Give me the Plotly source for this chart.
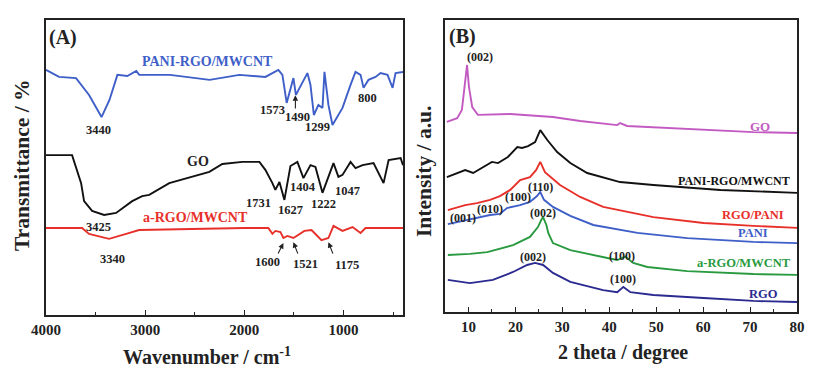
import plotly.graph_objects as go

FONT = "Liberation Serif"

# ---------------- Panel A: FTIR ----------------
pani_rgo_wn = [4000, 3869, 3697, 3566, 3440, 3360, 3280, 3180, 3090, 3060, 2750, 2350, 2050, 1788,
               1657, 1616, 1573, 1505, 1480, 1404, 1364, 1333, 1299, 1253, 1212, 1192, 1152, 1111,
               1010, 929, 879, 828, 798, 748, 677, 626, 556, 505, 475, 400]
pani_rgo_t = [83.1, 80.7, 80.3, 74.6, 67.1, 72.9, 81.4, 81.0, 82.7, 81.4, 81.4, 79.7, 81.4, 80.7,
              83.1, 81.4, 71.9, 80.3, 74.6, 79.7, 82.0, 78.0, 67.8, 71.2, 70.2, 82.4, 71.2, 64.4,
              70.2, 78.0, 82.4, 81.4, 77.0, 79.7, 80.7, 82.0, 81.4, 77.0, 82.0, 82.4]

go_wn = [4000, 3737, 3646, 3616, 3535, 3414, 3293, 3131, 3030, 2959, 2757, 2525, 2353, 2222,
         2020, 1848, 1788, 1717, 1687, 1646, 1596, 1535, 1465, 1404, 1333, 1283, 1212, 1101,
         1051, 1010, 929, 879, 808, 697, 596, 545, 424, 400]
go_t = [54.2, 54.2, 44.7, 38.6, 35.3, 33.9, 34.6, 38.6, 40.3, 40.7, 44.7, 46.8, 48.5, 51.2,
        51.9, 51.9, 49.2, 44.7, 42.4, 45.1, 39.0, 50.5, 51.9, 46.4, 50.8, 50.2, 41.4, 51.5,
        46.8, 47.5, 51.9, 49.8, 50.8, 51.5, 44.7, 52.5, 53.2, 50.8]

argo_wn = [4000, 3636, 3566, 3364, 3192, 3061, 2000, 1758, 1717, 1687, 1636, 1606, 1566, 1505,
           1394, 1323, 1293, 1222, 1152, 1101, 1010, 909, 828, 778, 400]
argo_t = [29.5, 29.5, 27.5, 25.8, 27.5, 28.8, 29.5, 29.5, 27.5, 28.5, 28.1, 26.1, 26.8, 26.1,
          28.5, 28.8, 27.8, 25.4, 26.1, 30.2, 28.5, 29.8, 27.8, 29.5, 29.5]

# ---------------- Panel B: XRD ----------------
xrd_go_t = [5.4, 7.6, 8.6, 9.1, 9.7, 10.1, 10.8, 12.0, 18.9, 28.0, 33.8, 41.7, 42.3, 43.8, 56.6, 70.7, 80]
xrd_go_i = [65.1, 66.4, 69.2, 77.1, 84.6, 77.1, 70.2, 67.5, 67.8, 66.8, 65.4, 64.0, 64.7, 63.7, 62.7, 61.6, 61.3]

xrd_prm_t = [5.4, 9.3, 11.0, 15.0, 16.3, 18.4, 20.4, 21.4, 22.7, 24.2, 25.3, 26.8, 28.9, 31.7, 35.3, 42.3, 49.4, 63.7, 80]
xrd_prm_i = [46.2, 48.6, 47.6, 51.4, 51.0, 53.1, 56.5, 56.2, 56.8, 58.2, 62.3, 58.9, 54.8, 51.0, 47.6, 44.5, 43.5, 41.8, 40.8]

xrd_rp_t = [5.6, 9.3, 11.8, 14.6, 16.7, 18.9, 21.0, 23.1, 24.4, 25.3, 26.3, 29.5, 33.8, 38.7, 49.4, 60.1, 70.7, 80]
xrd_rp_i = [34.9, 36.6, 37.3, 38.4, 39.7, 41.8, 45.2, 46.2, 48.6, 51.4, 47.9, 43.5, 39.4, 36.0, 32.5, 30.5, 29.5, 28.8]

xrd_pani_t = [5.6, 9.7, 14.6, 16.7, 18.2, 21.0, 23.1, 24.6, 25.3, 26.1, 28.0, 31.7, 36.6, 46.0, 56.6, 70.7, 80]
xrd_pani_i = [30.1, 31.5, 33.2, 33.6, 35.6, 36.6, 37.7, 39.7, 41.1, 38.4, 36.0, 32.9, 29.8, 27.1, 25.3, 24.0, 23.6]

xrd_argo_t = [5.6, 10.3, 14.0, 19.5, 23.1, 24.8, 25.5, 25.9, 26.6, 27.0, 28.0, 31.7, 39.6, 41.7, 43.4, 45.1, 48.1, 56.6, 70.7, 80]
xrd_argo_i = [19.5, 19.9, 20.5, 22.9, 25.7, 29.1, 31.5, 32.5, 29.8, 27.1, 23.6, 21.2, 18.5, 17.8, 19.0, 16.8, 15.4, 14.0, 13.0, 12.7]

xrd_rgo_t = [5.6, 10.3, 15.2, 19.5, 22.5, 24.2, 25.9, 28.0, 31.7, 38.7, 41.7, 43.0, 44.5, 49.4, 60.1, 70.7, 80]
xrd_rgo_i = [11.0, 9.9, 11.0, 13.7, 16.1, 16.8, 16.1, 13.4, 10.3, 7.5, 6.8, 8.6, 6.8, 5.8, 4.8, 3.8, 3.4]

C_BLUE = "#3f5fc8"
C_RED = "#e8302a"
C_MAG = "#c25ac2"
C_GREEN = "#2a9a40"
C_NAVY = "#2a2a90"
C_BLACK = "#111111"

fig = go.Figure()

def add(x, y, color, xa, ya):
    fig.add_trace(go.Scatter(x=x, y=y, mode="lines", line=dict(color=color, width=1.9),
                             xaxis=xa, yaxis=ya, showlegend=False, hoverinfo="skip"))

add(pani_rgo_wn, pani_rgo_t, C_BLUE, "x", "y")
add(go_wn, go_t, C_BLACK, "x", "y")
add(argo_wn, argo_t, C_RED, "x", "y")

add(xrd_go_t, xrd_go_i, C_MAG, "x2", "y2")
add(xrd_prm_t, xrd_prm_i, C_BLACK, "x2", "y2")
add(xrd_rp_t, xrd_rp_i, C_RED, "x2", "y2")
add(xrd_pani_t, xrd_pani_i, C_BLUE, "x2", "y2")
add(xrd_argo_t, xrd_argo_i, C_GREEN, "x2", "y2")
add(xrd_rgo_t, xrd_rgo_i, C_NAVY, "x2", "y2")

ann = []
NUM = 12.5
HKL = 12

def txt(x, y, s, color="#222222", size=NUM, xr="x", yr="y"):
    ann.append(dict(x=x, y=y, xref=xr, yref=yr, text=s, showarrow=False,
                    font=dict(family=FONT, size=size, color=color, weight="bold"),
                    xanchor="center", yanchor="middle"))

def arrow(x_head, y_head, x_tail, y_tail):
    ann.append(dict(x=x_head, y=y_head, ax=x_tail, ay=y_tail, xref="x", yref="y",
                    axref="x", ayref="y", text="", showarrow=True, arrowhead=2,
                    arrowsize=1, arrowwidth=1.1, arrowcolor="#222222"))

# Panel A labels
txt(3828, 93.9, "(A)", size=20)
txt(2374, 85.8, "PANI-RGO/MWCNT", C_BLUE, 14)
txt(3475, 62.7, "3440")
txt(1717, 69.5, "1573")
txt(1465, 67.1, "1490")
txt(1263, 63.7, "1299")
txt(758, 73.6, "800")
txt(2465, 51.9, "GO", size=14)
txt(1859, 38.0, "1731")
txt(1535, 35.6, "1627")
txt(1404, 43.4, "1404")
txt(1202, 37.6, "1222")
txt(960, 42.0, "1047")
txt(3475, 29.8, "3425")
txt(2495, 33.2, "a-RGO/MWCNT", C_RED, 14)
txt(3333, 19.0, "3340")
txt(1768, 18.0, "1600")
txt(1384, 17.3, "1521")
txt(960, 16.9, "1175")
arrow(1485, 74.5, 1485, 69.5)
arrow(1606, 24.4, 1667, 20.3)
arrow(1505, 24.7, 1455, 20.3)
arrow(1152, 24.7, 1101, 20.3)

# Panel B labels
txt(8.8, 94.2, "(B)", size=20, xr="x2", yr="y2")
txt(12.4, 87.3, "(002)", size=HKL, xr="x2", yr="y2")
txt(72.2, 63.4, "GO", C_MAG, 13, "x2", "y2")
txt(66.5, 44.9, "PANI-RGO/MWCNT", C_BLACK, 12, "x2", "y2")
txt(25.3, 42.8, "(110)", size=HKL, xr="x2", yr="y2")
txt(20.6, 39.4, "(100)", size=HKL, xr="x2", yr="y2")
txt(14.6, 35.3, "(010)", size=HKL, xr="x2", yr="y2")
txt(8.8, 32.2, "(001)", size=HKL, xr="x2", yr="y2")
txt(25.9, 33.9, "(002)", size=HKL, xr="x2", yr="y2")
txt(70.7, 33.2, "RGO/PANI", C_RED, 12.5, "x2", "y2")
txt(70.7, 27.1, "PANI", C_BLUE, 12.5, "x2", "y2")
txt(42.8, 19.2, "(100)", size=HKL, xr="x2", yr="y2")
txt(68.6, 16.8, "a-RGO/MWCNT", C_GREEN, 12.5, "x2", "y2")
txt(23.8, 18.8, "(002)", size=HKL, xr="x2", yr="y2")
txt(43.0, 11.3, "(100)", size=HKL, xr="x2", yr="y2")
txt(72.9, 6.2, "RGO", C_NAVY, 12.5, "x2", "y2")

# Axis titles
def ptxt(x, y, s, size, angle=0):
    ann.append(dict(x=x, y=y, xref="paper", yref="paper", text=s, showarrow=False,
                    textangle=angle, font=dict(family=FONT, size=size, color="#222222", weight="bold"),
                    xanchor="center", yanchor="middle"))

ptxt(207 / 826, 1 - 356 / 380, "Wavenumber / cm<sup>-1</sup>", 20)
ptxt(22 / 826, 1 - 165 / 380, "Transmittance / %", 21.5, -90)
ptxt(623 / 826, 1 - 352 / 380, "2 theta / degree", 20)
ptxt(424 / 826, 1 - 172 / 380, "Intensity / a.u.", 21.5, -90)

axis_common = dict(showgrid=False, zeroline=False, showline=True, linecolor="#222222",
                   linewidth=1.6, mirror=True, ticks="inside", tickcolor="#222222",
                   ticklen=5, tickwidth=1.4, automargin=False,
                   tickfont=dict(family=FONT, size=15, color="#222222", weight="bold"))
yaxis_common = {k: v for k, v in axis_common.items() if k != "ticks"}

fig.update_layout(
    template="none",
    width=826, height=380, margin=dict(l=0, r=0, t=0, b=0, pad=0, autoexpand=False),
    paper_bgcolor="white", plot_bgcolor="white",
    xaxis=dict(domain=[46 / 826, 403 / 826], range=[4000, 400], anchor="y",
               tickvals=[4000, 3000, 2000, 1000],
               minor=dict(tickvals=[3500, 2500, 1500, 500], ticks="inside", ticklen=3,
                          tickcolor="#222222"),
               **axis_common),
    yaxis=dict(domain=[1 - 315 / 380, 1 - 20 / 380], range=[0, 100], anchor="x",
               showticklabels=False, ticks="", **yaxis_common),
    xaxis2=dict(domain=[445 / 826, 797 / 826], range=[5, 80], anchor="y2",
                tickvals=[10, 20, 30, 40, 50, 60, 70, 80],
                minor=dict(tickvals=[15, 25, 35, 45, 55, 65, 75], ticks="inside", ticklen=3,
                           tickcolor="#222222"),
                **axis_common),
    yaxis2=dict(domain=[1 - 312 / 380, 1 - 20 / 380], range=[0, 100], anchor="x2",
                showticklabels=False, ticks="", **yaxis_common),
    annotations=ann,
)

fig.write_html("out.html", config={"displayModeBar": False},
               post_script="document.body.style.margin='0';document.body.style.overflow='hidden';")
